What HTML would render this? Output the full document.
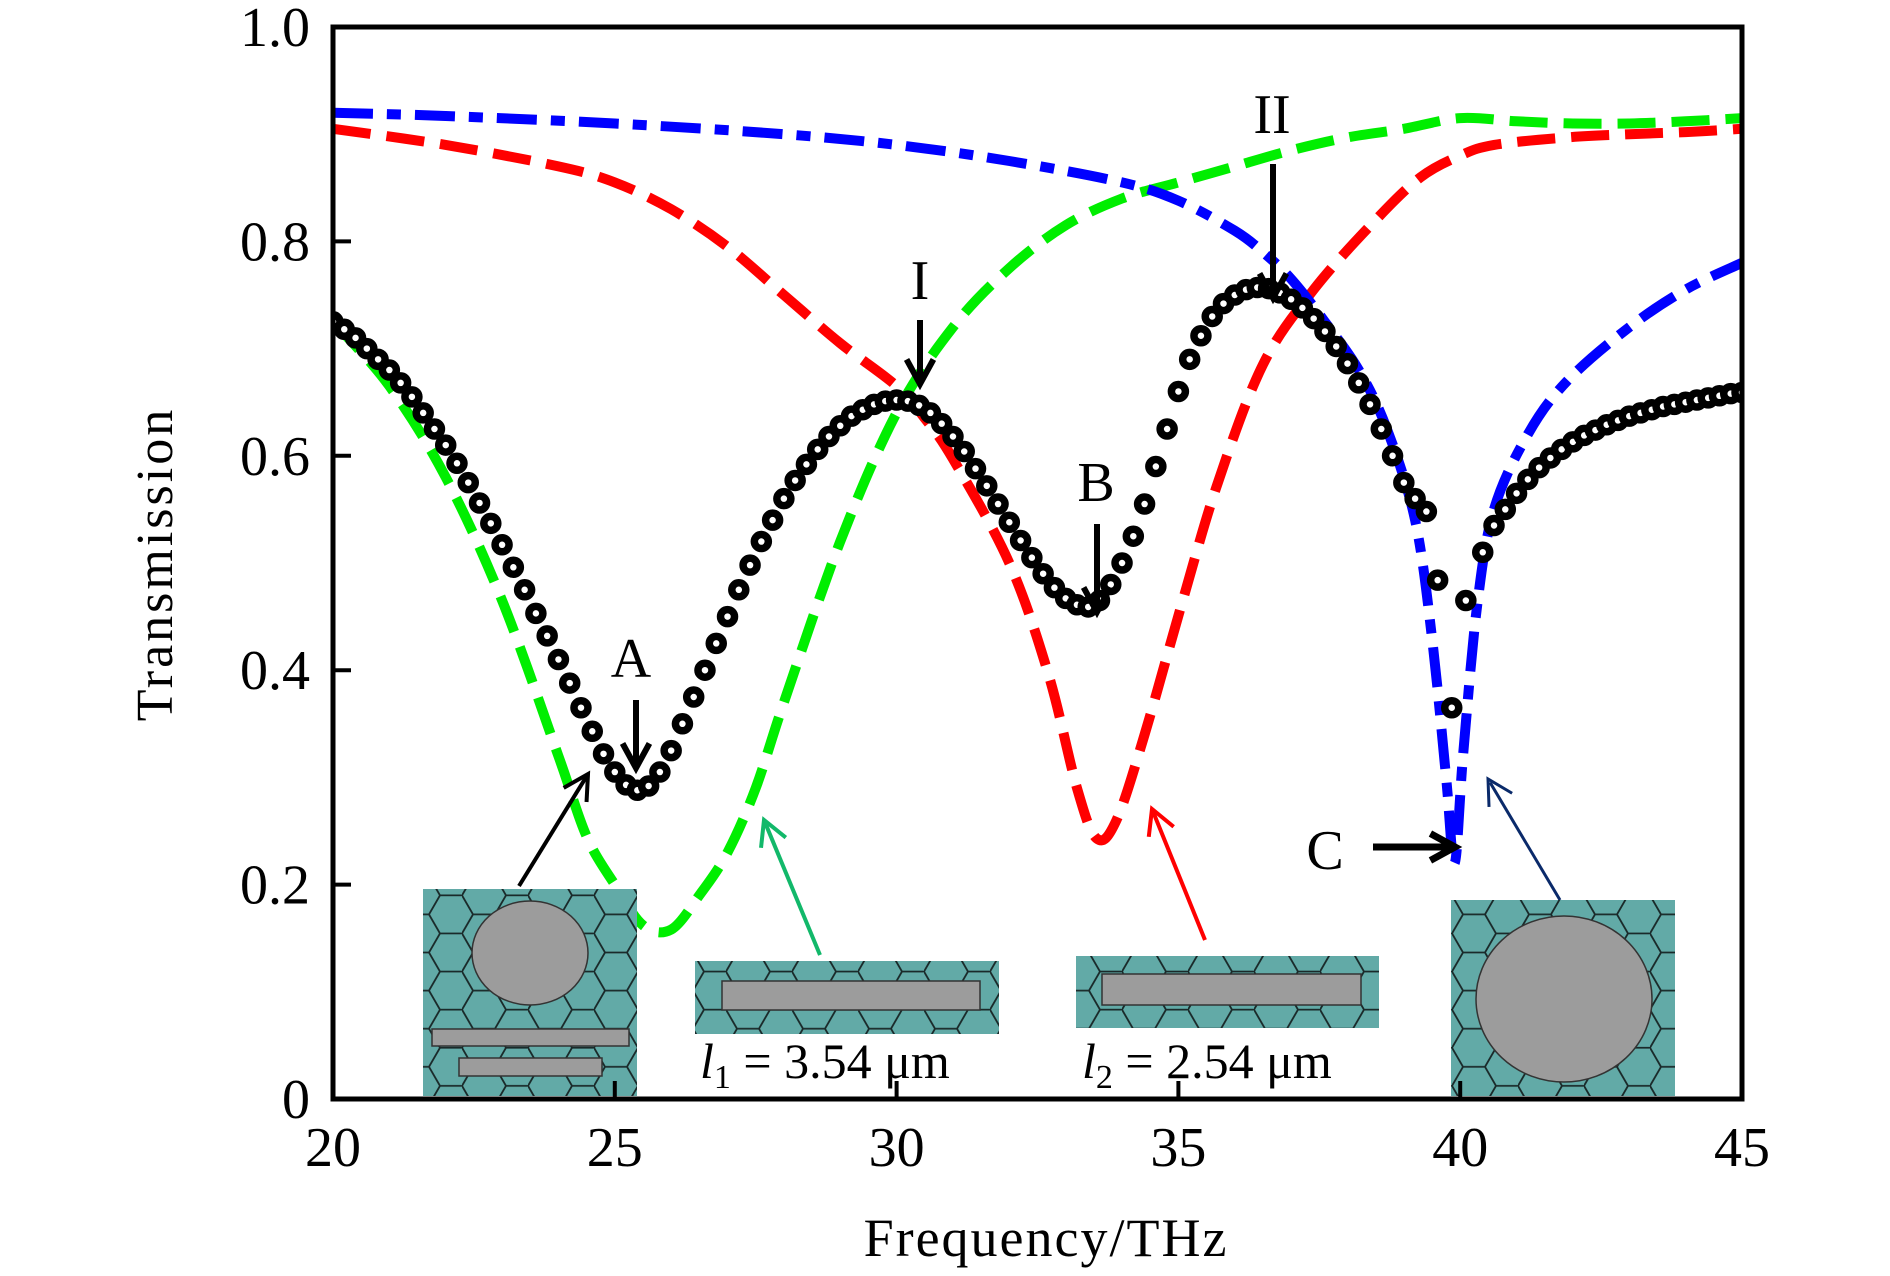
<!DOCTYPE html>
<html><head><meta charset="utf-8">
<style>
html,body{margin:0;padding:0;background:#fff;}
svg{display:block;font-family:"Liberation Serif","DejaVu Serif",serif;}
text{font-family:"Liberation Serif","DejaVu Serif",serif;fill:#000;}
</style></head>
<body>
<svg id="chart" width="1890" height="1276" viewBox="0 0 1890 1276" xmlns="http://www.w3.org/2000/svg" font-family="Liberation Serif, serif">
<defs>
<pattern id="hex" patternUnits="userSpaceOnUse" width="66" height="38.1">
<rect width="66" height="38.1" fill="#62aaa7"/>
<path d="M0,19.05 L11,0 L33,0 L44,19.05 L33,38.1 L11,38.1 Z M44,19.05 L66,19.05" fill="none" stroke="#1a2a2a" stroke-width="1.8"/>
</pattern>
<clipPath id="plotclip"><rect x="333" y="27" width="1409" height="1072"/></clipPath>
</defs>
<g id="plot" clip-path="url(#plotclip)"></g>
<g id="overlay"></g>
<rect x="333" y="27" width="1409" height="1072" fill="none" stroke="#000" stroke-width="5"/>
<g id="axes"></g>
<text x="0" y="0" font-size="52" text-anchor="middle" font-family="Liberation Serif, serif" transform="translate(172,564) rotate(-90)" letter-spacing="3">Transmission</text>
<text x="1046" y="1256" font-size="54" text-anchor="middle" font-family="Liberation Serif, serif" letter-spacing="2">Frequency/THz</text>
</svg>
<script>
const xTicks=[20,25,30,35,40,45];
const yTicks=[0,0.2,0.4,0.6,0.8,1.0];
const yTickLabels=["0","0.2","0.4","0.6","0.8","1.0"];
const dotFreq=[20.0,20.2,20.4,20.6,20.8,21.0,21.2,21.4,21.6,21.8,22.0,22.2,22.4,22.6,22.8,23.0,23.2,23.4,23.6,23.8,24.0,24.2,24.4,24.6,24.8,25.0,25.2,25.4,25.6,25.8,26.0,26.2,26.4,26.6,26.8,27.0,27.2,27.4,27.6,27.8,28.0,28.2,28.4,28.6,28.8,29.0,29.2,29.4,29.6,29.8,30.0,30.2,30.4,30.6,30.8,31.0,31.2,31.4,31.6,31.8,32.0,32.2,32.4,32.6,32.8,33.0,33.2,33.4,33.6,33.8,34.0,34.2,34.4,34.6,34.8,35.0,35.2,35.4,35.6,35.8,36.0,36.2,36.4,36.6,36.8,37.0,37.2,37.4,37.6,37.8,38.0,38.2,38.4,38.6,38.8,39.0,39.2,39.4,39.6,39.85,40.1,40.4,40.6,40.8,41.0,41.2,41.4,41.6,41.8,42.0,42.2,42.4,42.6,42.8,43.0,43.2,43.4,43.6,43.8,44.0,44.2,44.4,44.6,44.8,45.0];
const dotT=[.725,.718,.71,.70,.69,.68,.668,.655,.64,.625,.61,.593,.575,.556,.537,.517,.496,.475,.453,.432,.41,.388,.365,.343,.322,.305,.293,.288,.292,.305,.325,.35,.375,.40,.425,.45,.475,.498,.52,.54,.56,.577,.592,.606,.618,.628,.637,.643,.648,.651,.652,.651,.647,.64,.63,.618,.604,.588,.572,.555,.538,.521,.505,.49,.477,.467,.461,.459,.465,.48,.50,.525,.555,.59,.625,.66,.69,.712,.73,.742,.75,.755,.757,.756,.752,.746,.738,.728,.716,.702,.686,.668,.648,.625,.60,.575,.56,.548,.484,.365,.465,.51,.535,.55,.565,.578,.589,.598,.606,.613,.619,.624,.629,.633,.637,.64,.643,.646,.648,.65,.652,.654,.656,.658,.659,.66];
const greenFreq=[20,21,22,23,24,24.5,25,25.5,26,26.5,27,27.5,28,29,30,31,32,33,34,35,36,37,38,39,40,41,42,43,44,45];
const greenT=[.725,.665,.58,.465,.32,.245,.2,.162,.158,.19,.23,.29,.37,.52,.64,.72,.775,.815,.84,.855,.87,.885,.897,.905,.915,.912,.91,.91,.912,.915];
const redFreq=[20,22,24,25,26,27,28,29,30,30.5,31,32,32.7,33.2,33.55,33.9,34.4,35.05,35.7,36.5,37.4,38.5,39.3,40,40.6,41.9,43,44,45];
const redT=[.905,.89,.87,.855,.83,.795,.75,.705,.665,.635,.597,.5,.395,.29,.243,.26,.34,.46,.575,.685,.755,.82,.86,.88,.89,.897,.9,.902,.905];
const blueFreq=[20,22,25,28,30,32,34,35,36,36.5,37,37.6,38.2,38.7,39.2,39.5,39.75,39.9,40.05,40.3,40.6,41.2,41.9,43,44,45];
const blueT=[.92,.917,.91,.9,.89,.875,.855,.838,.81,.79,.765,.725,.68,.625,.54,.43,.3,.22,.32,.46,.55,.62,.67,.72,.755,.78];

const X0=333,X1=1742,Y0=1099,Y1=27;
const xs=f=>X0+(f-20)/(45-20)*(X1-X0);
const ys=v=>Y0-v*(Y0-Y1);
const NS="http://www.w3.org/2000/svg";
const plot=document.getElementById('plot'),axes=document.getElementById('axes'),ov=document.getElementById('overlay');
function mk(tag,attrs,parent){const e=document.createElementNS(NS,tag);for(const k in attrs)e.setAttribute(k,attrs[k]);parent.appendChild(e);return e;}

xTicks.forEach((t,i)=>{
  const tk=mk('line',{x1:xs(t),x2:xs(t),y1:Y0,y2:Y0-18,stroke:'#000','stroke-width':4},axes);
  
  
  const lb=mk('text',{x:xs(t),y:1166,'font-size':56,'text-anchor':'middle','font-family':'Liberation Serif, serif'},axes);
  lb.textContent=String(t);
  
  
});
yTicks.forEach((t,i)=>{
  const tk=mk('line',{x1:X0,x2:X0+18,y1:ys(t),y2:ys(t),stroke:'#000','stroke-width':4},axes);
  
  
  const lb=mk('text',{x:310,y:ys(t)+19,'font-size':56,'text-anchor':'end','font-family':'Liberation Serif, serif'},axes);
  lb.textContent=yTickLabels[i];
  
  
});

function smoothPath(fr,tv){
  const P=fr.map((f,i)=>[xs(f),ys(tv[i])]);
  let d='M'+P[0][0].toFixed(1)+','+P[0][1].toFixed(1);
  for(let i=0;i<P.length-1;i++){
    const p0=P[Math.max(0,i-1)],p1=P[i],p2=P[i+1],p3=P[Math.min(P.length-1,i+2)];
    const c1=[p1[0]+(p2[0]-p0[0])/6,p1[1]+(p2[1]-p0[1])/6];
    const c2=[p2[0]-(p3[0]-p1[0])/6,p2[1]-(p3[1]-p1[1])/6];
    d+=` C${c1[0].toFixed(1)},${c1[1].toFixed(1)} ${c2[0].toFixed(1)},${c2[1].toFixed(1)} ${p2[0].toFixed(1)},${p2[1].toFixed(1)}`;
  }
  return d;
}
function line(fr,tv,color,dash,name){
  const p=mk('path',{d:smoothPath(fr,tv),fill:'none',stroke:color,'stroke-width':10,'stroke-dasharray':dash,'stroke-linejoin':'round'},plot);
  
  
}
line(greenFreq,greenT,'#00ee00','38 16','green-curve-l1');
line(redFreq,redT,'#ff0000','38 16','red-curve-l2');
line(blueFreq,blueT,'#0000ff','40 14 14 14','blue-curve-circle');

dotFreq.forEach((f,i)=>{
  const c=mk('circle',{cx:xs(f),cy:ys(dotT[i]),r:7,fill:'#fff',stroke:'#000','stroke-width':7.5},plot);
  
  
});

function arrow(x1,y1,x2,y2,color,w,name){
  const g=mk('g',{},ov);
  
  
  const a=Math.atan2(y2-y1,x2-x1),L=28,s=0.5;
  mk('line',{x1:x1,y1:y1,x2:x2-Math.cos(a)*4,y2:y2-Math.sin(a)*4,stroke:color,'stroke-width':w},g);
  mk('path',{d:`M${x2-L*Math.cos(a-s)},${y2-L*Math.sin(a-s)} L${x2},${y2} L${x2-L*Math.cos(a+s)},${y2-L*Math.sin(a+s)}`,fill:'none',stroke:color,'stroke-width':w,'stroke-linejoin':'miter'},g);
}
function label(x,y,t,name){const e=mk('text',{x:x,y:y,'font-size':56,'text-anchor':'middle','font-family':'Liberation Serif, serif'},ov);e.textContent=t;
  
  }
label(920,299,'I','label-I');arrow(920,320,920,384,'#000',6,'arrow-I');
label(1272,133,'II','label-II');arrow(1273,164,1273,298,'#000',6,'arrow-II');
label(631,677,'A','label-A');arrow(636,700,636,768,'#000',6,'arrow-A');
label(1096,501,'B','label-B');arrow(1097,524,1097,612,'#000',6,'arrow-B');
label(1325,869,'C','label-C');arrow(1373,847,1455,847,'#000',7,'arrow-C');
arrow(519,886,588,774,'#000',4,'arrow-inset-1');
arrow(820,955,764,820,'#12b86a',4,'arrow-inset-2');
arrow(1205,940,1152,809,'#ff0000',4,'arrow-inset-3');
arrow(1560,900,1488,779,'#0a2a6a',3,'arrow-inset-4');

function inset(x,y,w,h,name){const g=mk('g',{},ov);
  mk('rect',{x:x,y:y,width:w,height:h,fill:'url(#hex)'},g);return g;}
let g1=inset(423,889,214,207,'inset-circle-bars');
mk('ellipse',{cx:530,cy:953,rx:58,ry:52,fill:'#9c9c9c',stroke:'#333','stroke-width':1.5},g1);
mk('rect',{x:432,y:1029,width:197,height:17,fill:'#9c9c9c',stroke:'#333','stroke-width':1.5},g1);
mk('rect',{x:459,y:1058,width:143,height:18,fill:'#9c9c9c',stroke:'#333','stroke-width':1.5},g1);
let g2=inset(695,961,304,73,'inset-bar-l1');
mk('rect',{x:722,y:981,width:258,height:29,fill:'#9c9c9c',stroke:'#333','stroke-width':1.5},g2);
let g3=inset(1076,956,303,72,'inset-bar-l2');
mk('rect',{x:1102,y:974,width:259,height:31,fill:'#9c9c9c',stroke:'#333','stroke-width':1.5},g3);
let g4=inset(1451,900,224,196,'inset-circle');
mk('ellipse',{cx:1564,cy:999,rx:88,ry:83,fill:'#9c9c9c',stroke:'#333','stroke-width':1.5},g4);

function sub(x,y,main,s,rest,name){const t=mk('text',{x:x,y:y,'font-size':50,'font-family':'Liberation Serif, serif'},ov);
  
  
  t.innerHTML=`<tspan font-style="italic">${main}</tspan><tspan font-size="34" dy="10">${s}</tspan><tspan dy="-10"> = ${rest}</tspan>`;}
sub(700,1078,'l','1','3.54 μm','label-l1');
sub(1082,1078,'l','2','2.54 μm','label-l2');
</script>
</body></html>
